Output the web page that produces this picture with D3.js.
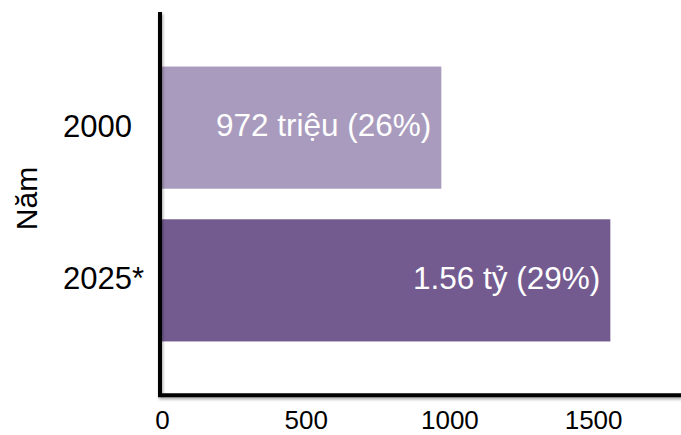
<!DOCTYPE html>
<html>
<head>
<meta charset="utf-8">
<script src="https://cdn.jsdelivr.net/npm/d3@7"></script>
<style>
  html, body { margin: 0; padding: 0; background: #fff; }
  svg { display: block; font-family: "Liberation Sans", Arial, sans-serif; }
</style>
</head>
<body>
<svg id="chart" width="681" height="435"></svg>
<script>
// Population by year (millions) with share labels
const years = ["2000", "2025*"];
const values = [972, 1560];
const valueLabels = ["972 triệu (26%)", "1.56 tỷ (29%)"];
const barColors = ["#a99bbd", "#735b90"];
const tickValues = [0, 500, 1000, 1500];
const yTitle = "Năm";

const svg = d3.select("#chart");

// drop shadow used by the axis lines
const defs = svg.append("defs");
const f = defs.append("filter").attr("id", "shadow")
  .attr("x", "-10%").attr("y", "-10%").attr("width", "120%").attr("height", "120%");
f.append("feDropShadow").attr("dx", 1).attr("dy", 2).attr("stdDeviation", 1.4)
  .attr("flood-color", "#000").attr("flood-opacity", 0.35);

const x = d3.scaleLinear().domain([0, 1800]).range([162, 162 + 1800 * 0.2874]);
const y = d3.scaleBand().domain(years).range([36, 372]).paddingInner(0.2).paddingOuter(0.2);

// bars
svg.append("g").selectAll("rect")
  .data(years)
  .join("rect")
  .attr("x", x(0))
  .attr("y", d => y(d))
  .attr("width", (d, i) => x(values[i]) - x(0))
  .attr("height", y.bandwidth())
  .attr("fill", (d, i) => barColors[i]);

// value labels inside bars
svg.append("g").selectAll("text")
  .data(years)
  .join("text")
  .attr("x", (d, i) => x(values[i]) - 10)
  .attr("y", d => y(d) + y.bandwidth() / 2)
  .attr("dy", "0.27em")
  .attr("text-anchor", "end")
  .attr("fill", "#fff")
  .attr("font-size", 31.5)
  .text((d, i) => valueLabels[i]);

// axis lines
const axisG = svg.append("g").attr("filter", "url(#shadow)");
axisG.append("line")
  .attr("x1", 160).attr("x2", 160).attr("y1", 12).attr("y2", 397)
  .attr("stroke", "#000").attr("stroke-width", 4);
axisG.append("line")
  .attr("x1", 158).attr("x2", 681).attr("y1", 395.3).attr("y2", 395.3)
  .attr("stroke", "#000").attr("stroke-width", 4);

// x tick labels via d3 axis (no tick marks, no domain)
const xAxis = svg.append("g")
  .attr("transform", "translate(0,400)")
  .call(d3.axisBottom(x).tickValues(tickValues).tickSize(0).tickPadding(0).tickFormat(d3.format("d")));
xAxis.select(".domain").remove();
xAxis.selectAll("text")
  .attr("font-size", 26)
  .attr("font-family", "'Liberation Sans', Arial, sans-serif")
  .attr("fill", "#000")
  .attr("dy", "0.71em")
  .attr("y", 11);

// y category labels, left aligned
svg.append("g").selectAll("text")
  .data(years)
  .join("text")
  .attr("x", 63)
  .attr("y", d => y(d) + y.bandwidth() / 2)
  .attr("dy", "0.29em")
  .attr("font-size", 31)
  .attr("fill", "#000")
  .text(d => d);

// y axis title
svg.append("text")
  .attr("transform", "translate(37,198.5) rotate(-90)")
  .attr("text-anchor", "middle")
  .attr("font-size", 30)
  .attr("fill", "#000")
  .text(yTitle);
</script>
</body>
</html>
